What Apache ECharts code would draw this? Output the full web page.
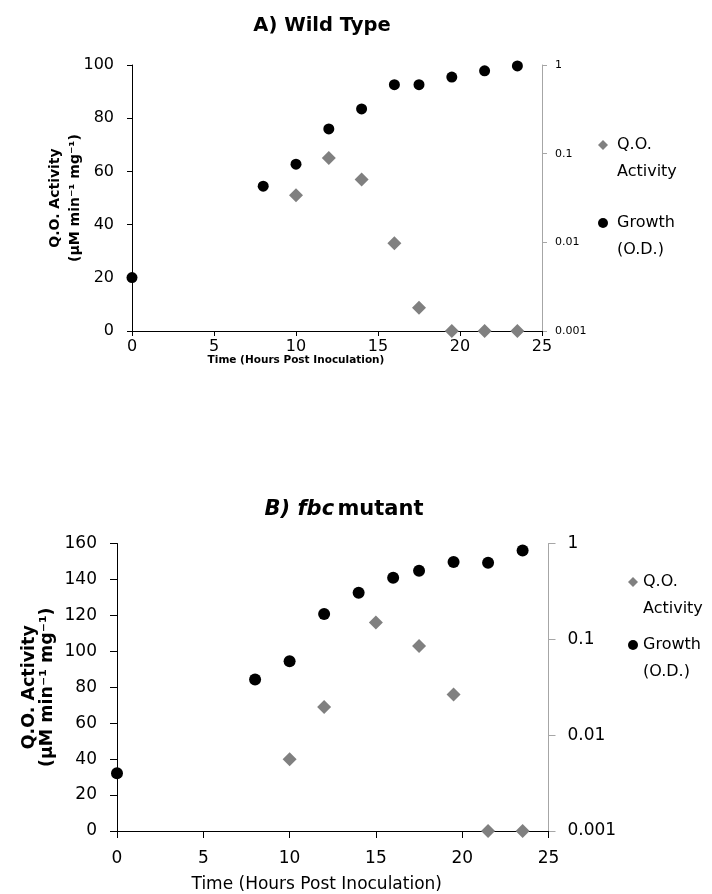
<!DOCTYPE html>
<html>
<head>
<meta charset="utf-8">
<script src="https://cdn.jsdelivr.net/npm/echarts@6/dist/echarts.min.js"></script>
<style>html,body{margin:0;padding:0;background:#fff}#c{width:712px;height:894px}</style>
</head>
<body>
<div id="c"></div>
<script>
// ---- Data ----
var growthTimesA = [0, 8, 10, 12, 14, 16, 17.5, 19.5, 21.5, 23.5];
var growthA = [0.004, 0.043, 0.076, 0.19, 0.32, 0.60, 0.60, 0.73, 0.86, 0.975];
var qoTimesA = [10, 12, 14, 16, 17.5, 19.5, 21.5, 23.5];
var qoA = [51, 65, 57, 33, 8.7, 0, 0, 0];

var growthTimesB = [0, 8, 10, 12, 14, 16, 17.5, 19.5, 21.5, 23.5];
var growthB = [0.004, 0.038, 0.059, 0.184, 0.306, 0.44, 0.52, 0.64, 0.63, 0.845];
var qoTimesB = [10, 12, 15, 17.5, 19.5, 21.5, 23.5];
var qoB = [40, 69, 116, 103, 76, 0, 0];

var logTickLabels = {'1': '1', '0.1': '0.1', '0.01': '0.01', '0.001': '0.001'};
var nameQO = 'Q.O.\nActivity';
var nameGrowth = 'Growth\n(O.D.)';

function pairs(xs, ys) { return xs.map(function (x, i) { return [x, ys[i]]; }); }
function logFmt(v) {
  var k = String(Number(v.toPrecision(3)));
  return logTickLabels[k] !== undefined ? logTickLabels[k] : k;
}
function legendFmt(name) { return '\u00a0\n' + name; }

var FONT = 'DejaVu Sans';
var chart = echarts.init(document.getElementById('c'), null, {renderer: 'canvas'});

var option = {
  backgroundColor: '#fff',
  animation: false,
  textStyle: {fontFamily: FONT, color: '#000'},
  graphic: [
    {type: 'text', x: 322, y: 26, style: {text: 'A) Wild Type', font: 'bold 19.5px "DejaVu Sans"', fill: '#000', align: 'center', verticalAlign: 'middle'}},
    {type: 'text', x: 344, y: 510, style: {
      text: '{i|B) fbc} {n|mutant}', align: 'center', verticalAlign: 'middle', fill: '#000',
      rich: {
        i: {fontFamily: FONT, fontSize: 21, fontWeight: 'bold', fontStyle: 'italic', fill: '#000'},
        n: {fontFamily: FONT, fontSize: 21, fontWeight: 'bold', fill: '#000'}
      }
    }}
  ],
  grid: [
    {left: 132, right: 170, top: 65, height: 266},
    {left: 117, right: 163.5, top: 543.5, height: 288.5}
  ],
  legend: [
    {
      orient: 'vertical', left: 598, top: 104.5, padding: 0, itemGap: -3,
      itemWidth: 10, itemHeight: 10, formatter: legendFmt,
      data: [{name: nameQO, icon: 'diamond'}, {name: nameGrowth, icon: 'circle'}],
      textStyle: {fontFamily: FONT, fontSize: 16, color: '#000', lineHeight: 27, padding: [0, 0, 0, 4]}
    },
    {
      orient: 'vertical', left: 628, top: 541.5, padding: 0, itemGap: -18,
      itemWidth: 10, itemHeight: 10, formatter: legendFmt,
      data: [{name: nameQO, icon: 'diamond'}, {name: nameGrowth, icon: 'circle'}],
      textStyle: {fontFamily: FONT, fontSize: 16, color: '#000', lineHeight: 27, padding: [0, 0, 0, 0]}
    }
  ],
  xAxis: [
    {
      gridIndex: 0, type: 'value', min: 0, max: 25, interval: 5,
      axisLine: {onZero: false, lineStyle: {color: '#000', width: 1}},
      axisTick: {show: true, length: 5, lineStyle: {color: '#000'}},
      splitLine: {show: false},
      axisLabel: {fontFamily: FONT, fontSize: 16, color: '#000', margin: 8},
      name: 'Time (Hours Post Inoculation)', nameLocation: 'middle', nameGap: 24, nameMoveOverlap: false,
      nameTextStyle: {fontFamily: FONT, fontSize: 10.5, fontWeight: 'bold', color: '#000', padding: [0, 82, 0, 0]}
    },
    {
      gridIndex: 1, type: 'value', min: 0, max: 25, interval: 5,
      axisLine: {onZero: false, lineStyle: {color: '#000', width: 1}},
      axisTick: {show: true, length: 7, lineStyle: {color: '#000'}},
      splitLine: {show: false},
      axisLabel: {fontFamily: FONT, fontSize: 17, color: '#000', margin: 19},
      name: 'Time (Hours Post Inoculation)', nameLocation: 'middle', nameGap: 45, nameMoveOverlap: false,
      nameTextStyle: {fontFamily: FONT, fontSize: 17, color: '#000', padding: [0, 32, 0, 0]}
    }
  ],
  yAxis: [
    {
      gridIndex: 0, type: 'value', min: 0, max: 100, interval: 20, position: 'left',
      axisLine: {show: true, onZero: false, lineStyle: {color: '#000', width: 1}},
      axisTick: {show: true, length: 5, lineStyle: {color: '#000'}},
      splitLine: {show: false},
      axisLabel: {fontFamily: FONT, fontSize: 16, color: '#000', margin: 18},
      name: 'Q.O. Activity\n(\u03bcM min\u207b\u00b9 mg\u207b\u00b9)', nameLocation: 'middle', nameGap: 47, nameMoveOverlap: false,
      nameTextStyle: {fontFamily: FONT, fontSize: 14, fontWeight: 'bold', color: '#000', lineHeight: 20}
    },
    {
      gridIndex: 0, type: 'log', logBase: 10, min: 0.001, max: 1, position: 'right',
      axisLine: {show: true, onZero: false, lineStyle: {color: '#a6a6a6', width: 1}},
      axisTick: {show: true, length: 5, lineStyle: {color: '#a6a6a6'}},
      splitLine: {show: false},
      axisLabel: {fontFamily: FONT, fontSize: 11, color: '#000', margin: 13, formatter: logFmt}
    },
    {
      gridIndex: 1, type: 'value', min: 0, max: 160, interval: 20, position: 'left',
      axisLine: {show: true, onZero: false, lineStyle: {color: '#000', width: 1}},
      axisTick: {show: true, length: 7, lineStyle: {color: '#000'}},
      splitLine: {show: false},
      axisLabel: {fontFamily: FONT, fontSize: 17, color: '#000', margin: 20},
      name: 'Q.O. Activity\n(\u03bcM min\u207b\u00b9 mg\u207b\u00b9)', nameLocation: 'middle', nameGap: 61, nameMoveOverlap: false,
      nameTextStyle: {fontFamily: FONT, fontSize: 17.5, fontWeight: 'bold', color: '#000', lineHeight: 18}
    },
    {
      gridIndex: 1, type: 'log', logBase: 10, min: 0.001, max: 1, position: 'right',
      axisLine: {show: true, onZero: false, lineStyle: {color: '#a6a6a6', width: 1}},
      axisTick: {show: true, length: 7, lineStyle: {color: '#a6a6a6'}},
      splitLine: {show: false},
      axisLabel: {fontFamily: FONT, fontSize: 17, color: '#000', margin: 19, formatter: logFmt}
    }
  ],
  series: [
    {name: nameQO, type: 'scatter', xAxisIndex: 0, yAxisIndex: 0, symbol: 'diamond', symbolSize: 14,
     itemStyle: {color: '#808080', opacity: 1}, clip: false, z: 3, data: pairs(qoTimesA, qoA)},
    {name: nameGrowth, type: 'scatter', xAxisIndex: 0, yAxisIndex: 1, symbol: 'circle', symbolSize: 11,
     itemStyle: {color: '#000', opacity: 1}, clip: false, z: 4, data: pairs(growthTimesA, growthA)},
    {name: nameQO, type: 'scatter', xAxisIndex: 1, yAxisIndex: 2, symbol: 'diamond', symbolSize: 14,
     itemStyle: {color: '#808080', opacity: 1}, clip: false, z: 3, data: pairs(qoTimesB, qoB)},
    {name: nameGrowth, type: 'scatter', xAxisIndex: 1, yAxisIndex: 3, symbol: 'circle', symbolSize: 12,
     itemStyle: {color: '#000', opacity: 1}, clip: false, z: 4, data: pairs(growthTimesB, growthB)}
  ]
};
chart.setOption(option);
</script>
</body>
</html>
